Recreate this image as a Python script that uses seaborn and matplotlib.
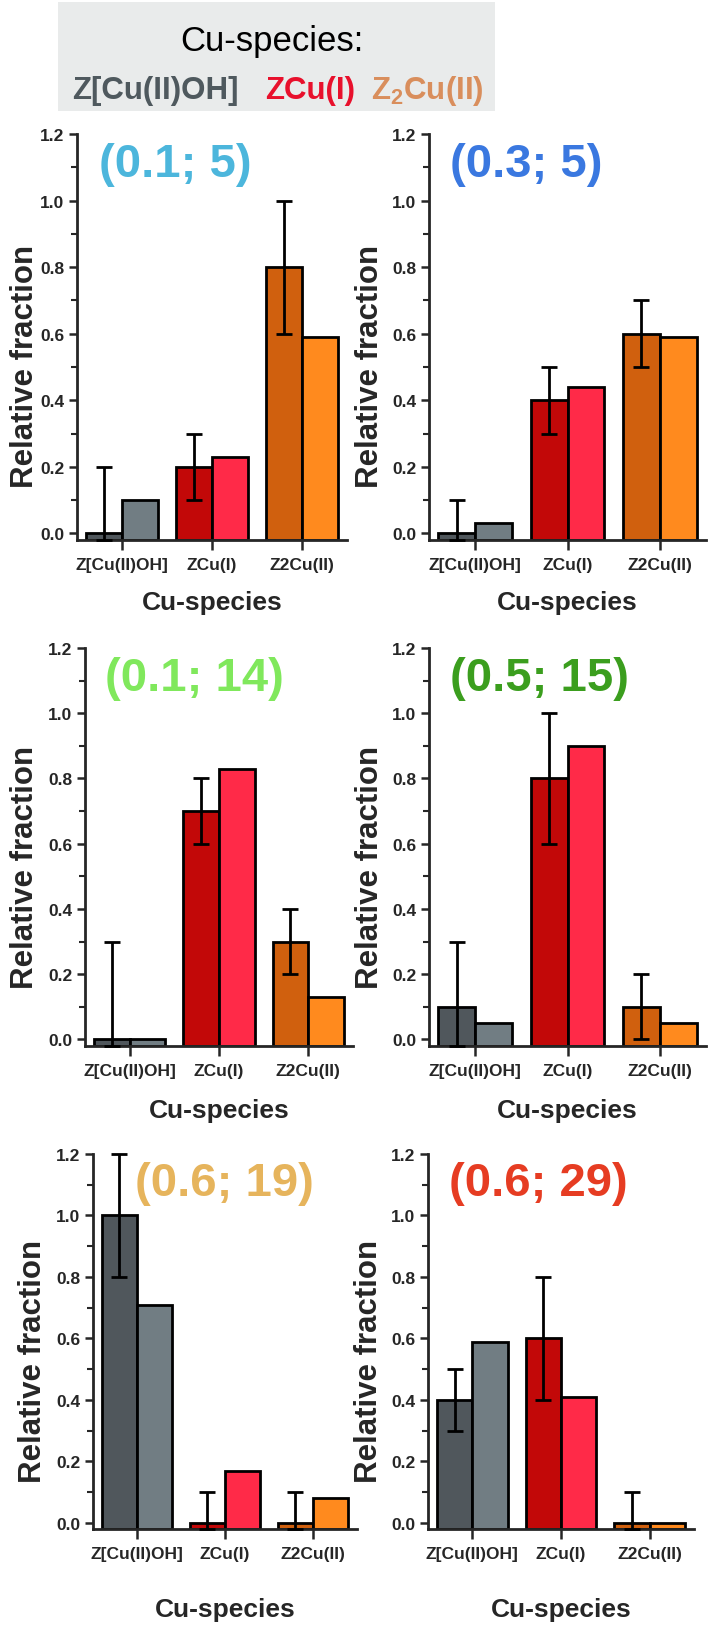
import numpy as np
import pandas as pd
import matplotlib
matplotlib.use('Agg')
import matplotlib.pyplot as plt
import seaborn as sns
from matplotlib.patches import Rectangle
from matplotlib.ticker import MultipleLocator

# data
categories = ['Z[Cu(II)OH]', 'ZCu(I)', 'Z2Cu(II)']
panel_titles = ['(0.1; 5)', '(0.3; 5)', '(0.1; 14)', '(0.5; 15)', '(0.6; 19)', '(0.6; 29)']
title_colors = ['#4cb6dc', '#3a78e0', '#80e85c', '#3b9e1e', '#e6b45c', '#e63c22']

exp_values = [
    [0.0, 0.2, 0.8],
    [0.0, 0.4, 0.6],
    [0.0, 0.7, 0.3],
    [0.1, 0.8, 0.1],
    [1.0, 0.0, 0.0],
    [0.4, 0.6, 0.0],
]
exp_errors = [
    [0.2, 0.1, 0.2],
    [0.1, 0.1, 0.1],
    [0.3, 0.1, 0.1],
    [0.2, 0.2, 0.1],
    [0.2, 0.1, 0.1],
    [0.1, 0.2, 0.1],
]
model_values = [
    [0.10, 0.23, 0.59],
    [0.03, 0.44, 0.59],
    [0.00, 0.83, 0.13],
    [0.05, 0.90, 0.05],
    [0.71, 0.17, 0.08],
    [0.59, 0.41, 0.00],
]

exp_colors = ['#50575c', '#c20808', '#d0600e']
model_colors = ['#717d83', '#ff2a48', '#ff8a1e']

header_labels = ['Z[Cu(II)OH]', 'ZCu(I)', r'Z$_\mathbf{2}$Cu(II)']
header_colors = ['#4f595e', '#e8102c', '#d98e5c']

sns.set_style('ticks')
plt.rcParams['font.family'] = ['Liberation Sans', 'DejaVu Sans']
plt.rcParams['mathtext.fontset'] = 'custom'
plt.rcParams['mathtext.rm'] = 'Liberation Sans'
plt.rcParams['mathtext.bf'] = 'Liberation Sans:bold'

W, H = 710, 1633
fig = plt.figure(figsize=(W / 100, H / 100), dpi=100)

# header box
fig.patches.append(Rectangle((58 / W, 1 - 112 / H), (495 - 58) / W, (112 - 3) / H,
                             transform=fig.transFigure, facecolor='#e9ebeb',
                             edgecolor='none', zorder=0))
fig.text(272 / W, 1 - 42 / H, 'Cu-species:', ha='center', va='center',
         fontsize=25, color='black')
for lbl, col, xc in zip(header_labels, header_colors, [155, 310, 427]):
    fig.text(xc / W, 1 - 99 / H, lbl, ha='center', va='baseline', fontsize=22.5,
             fontweight='bold', color=col)

# axes boxes in pixels: left, top, right, bottom
boxes = [
    (77, 135, 347, 541), (429, 135, 706, 541),
    (85, 649, 353, 1047), (429, 649, 706, 1047),
    (93, 1155, 357, 1530), (428, 1155, 694, 1530),
]
title_x = [0.08, 0.075, 0.075, 0.075, 0.16, 0.08]
xlabel_drop = [62, 62, 64, 64, 80, 80]
ylabel_y = [0.43, 0.43, 0.45, 0.45, 0.45, 0.45]
ylabel_left = [52, 59, 60, 59, 60, 59]
base = -0.02

for i, (l, t, r, b) in enumerate(boxes):
    w, h = r - l, b - t
    ax = fig.add_axes([l / W, 1 - b / H, w / W, h / H])
    df = pd.DataFrame({
        'species': categories * 2,
        'value': exp_values[i] + model_values[i],
        'source': ['Experiment'] * 3 + ['Model'] * 3,
    })
    sns.barplot(data=df, x='species', y='value', hue='source', ax=ax,
                width=0.8, legend=False, edgecolor='black', linewidth=2,
                saturation=1)
    # bars in the original start from the bottom of the axis
    for cont, cols in zip(ax.containers, [exp_colors, model_colors]):
        for bar, c in zip(cont, cols):
            bar.set_facecolor(c)
            top = bar.get_y() + bar.get_height()
            bar.set_y(base)
            bar.set_height(top - base)

    xs = [bar.get_x() + bar.get_width() / 2 for bar in ax.containers[0]]
    ev = np.array(exp_values[i])
    ee = np.array(exp_errors[i])
    lower = np.minimum(ee, ev - base)
    ax.errorbar(xs, ev, yerr=[lower, ee], fmt='none', ecolor='black',
                elinewidth=2, capsize=5.5, capthick=2, clip_on=False, zorder=5)

    ax.set_xlim(-0.5, 2.5)
    ax.set_ylim(base, 1.2)
    ax.set_yticks([0.0, 0.2, 0.4, 0.6, 0.8, 1.0, 1.2])
    ax.set_yticklabels(['0.0', '0.2', '0.4', '0.6', '0.8', '1.0', '1.2'])
    ax.yaxis.set_minor_locator(MultipleLocator(0.1))
    sns.despine(ax=ax)
    for sp in ['left', 'bottom']:
        ax.spines[sp].set_linewidth(2)
    ax.tick_params(axis='y', which='major', direction='out', length=6,
                   width=1.8, pad=3)
    ax.tick_params(axis='x', which='major', direction='out', length=7,
                   width=1.8, pad=5)
    ax.tick_params(axis='y', which='minor', direction='out', length=4, width=1.5)
    ax.tick_params(axis='x', which='minor', bottom=False)
    for lab in ax.get_yticklabels():
        lab.set_fontsize(12.5)
        lab.set_fontweight('bold')
    for lab in ax.get_xticklabels():
        lab.set_fontsize(12.5)
        lab.set_fontweight('bold')

    ax.set_xlabel('Cu-species', fontsize=19, fontweight='bold')
    ax.xaxis.label.set_va('center')
    ax.xaxis.set_label_coords(0.5, -xlabel_drop[i] / h)
    ax.set_ylabel('Relative fraction', fontsize=22.5, fontweight='bold')
    ax.yaxis.label.set_va('center')
    ax.yaxis.set_label_coords(-ylabel_left[i] / w, ylabel_y[i])

    ax.text(title_x[i], 0.98, panel_titles[i], transform=ax.transAxes,
            ha='left', va='top', fontsize=34, fontweight='bold',
            color=title_colors[i])

fig.savefig('out.png', dpi=100)
